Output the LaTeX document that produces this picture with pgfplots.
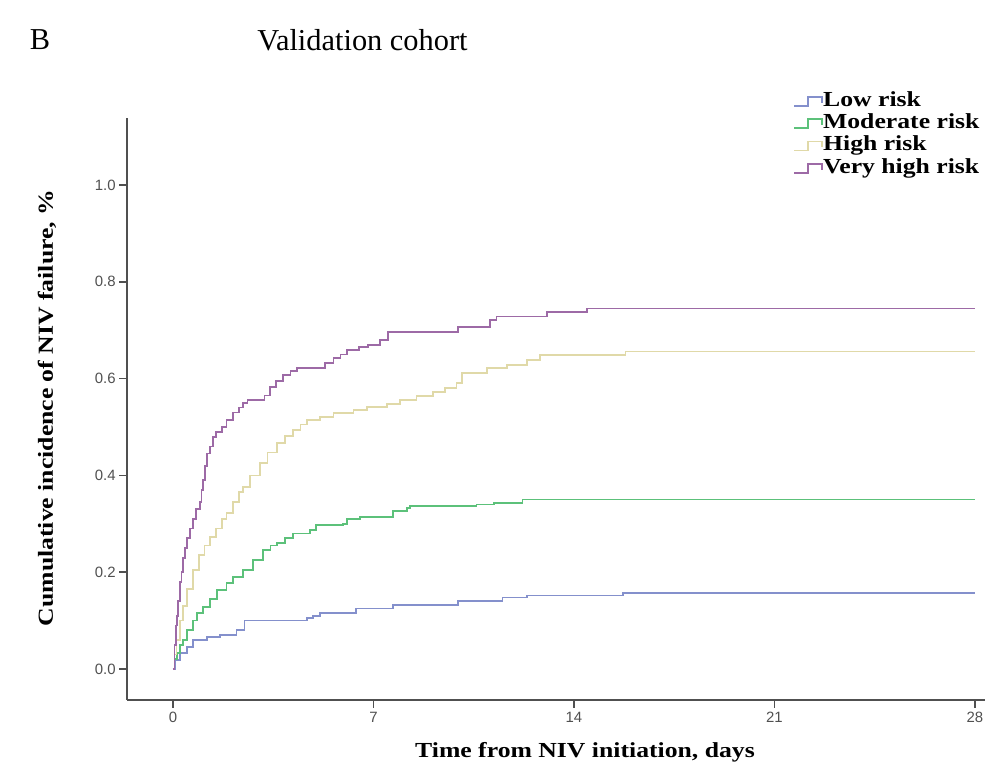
\documentclass[border=0pt]{standalone}
\usepackage{pgfplots}
\pgfplotsset{compat=1.18}
\usepackage{fontspec}
\setmainfont{Liberation Serif}
\newfontfamily\sansf{Liberation Sans}
\newfontfamily\labfont[FakeStretch=1.2]{Liberation Serif}
\definecolor{lowc}{HTML}{8490CC}
\definecolor{modc}{HTML}{5CC17A}
\definecolor{highc}{HTML}{E0D9A8}
\definecolor{vhighc}{HTML}{9D6AA6}
\definecolor{axc}{HTML}{505050}
\begin{document}
\begin{tikzpicture}
\path[use as bounding box] (-173bp,-100bp) rectangle (828bp,669bp);
\begin{axis}[
  at={(0,0)}, anchor=origin,
  x=28.64bp, y=484bp,
  xmin=-1.6, xmax=28.35, ymin=-0.064, ymax=1.138,
  axis x line*=bottom, axis y line*=left,
  axis line style={-, draw=axc, line width=1.8bp},
  tick style={draw=axc, line width=1.5bp},
  tick align=outside,
  major tick length=8bp,
  xtick={0,7,14,21,28},
  ytick={0,0.2,0.4,0.6,0.8,1.0},
  yticklabel style={/pgf/number format/fixed, /pgf/number format/fixed zerofill, /pgf/number format/precision=1},
  xticklabel style={yshift=-1bp},
  /pgf/number format/assume math mode=true,
  tick label style={font=\fontsize{15}{15}\selectfont\sansf, text=axc},
  legend style={draw=none, fill=none, at={(rel axis cs:0.773,1.05)}, anchor=north west,
    font=\fontsize{21.5}{22}\selectfont\labfont\bfseries,
    nodes={inner sep=0pt, text height=15bp, text depth=4bp}, row sep=3.3bp,
    /tikz/every even column/.append style={column sep=3bp}},
  legend cell align=left,
  legend image code/.code={\draw[#1] (0bp,-5bp) -- (14bp,-5bp) -- (14bp,4bp) -- (28bp,4bp) -- (28bp,-2bp);},
  clip=false,
]
\addplot[const plot, lowc, line width=1.7bp] coordinates {
(0,0) (0.07,0.019) (0.24,0.033) (0.48,0.046) (0.7,0.06) (1.18,0.066) (1.64,0.07) (2.22,0.08) (2.5,0.10) (4.67,0.105) (4.9,0.11) (5.13,0.115) (6.4,0.125) (7.68,0.132) (9.95,0.141) (11.5,0.148) (12.36,0.152) (15.7,0.157) (28,0.157)};
\addlegendentry{Low risk}
\addplot[const plot, modc, line width=1.7bp] coordinates {
(0,0) (0.05,0.02) (0.13,0.033) (0.25,0.05) (0.35,0.06) (0.5,0.08) (0.7,0.10) (0.85,0.115) (1.05,0.128) (1.3,0.145) (1.53,0.163) (1.87,0.178) (2.1,0.19) (2.45,0.205) (2.8,0.225) (3.14,0.246) (3.4,0.255) (3.62,0.26) (3.9,0.27) (4.2,0.28) (4.78,0.287) (5.0,0.297) (5.94,0.30) (6.07,0.31) (6.53,0.314) (7.68,0.326) (8.17,0.333) (8.27,0.337) (10.6,0.34) (11.2,0.343) (12.2,0.35) (28,0.35)};
\addlegendentry{Moderate risk}
\addplot[const plot, highc, line width=1.7bp] coordinates {
(0,0) (0.05,0.03) (0.12,0.06) (0.24,0.10) (0.35,0.13) (0.5,0.165) (0.7,0.205) (0.9,0.235) (1.1,0.255) (1.29,0.273) (1.5,0.29) (1.7,0.31) (1.87,0.322) (2.1,0.345) (2.3,0.365) (2.45,0.376) (2.7,0.40) (3.04,0.425) (3.3,0.447) (3.62,0.467) (3.9,0.482) (4.2,0.494) (4.45,0.505) (4.67,0.514) (5.13,0.521) (5.6,0.529) (6.3,0.535) (6.77,0.541) (7.47,0.548) (7.93,0.556) (8.5,0.564) (9.08,0.572) (9.5,0.58) (9.9,0.591) (10.09,0.612) (10.96,0.622) (11.66,0.628) (12.36,0.638) (12.81,0.649) (15.8,0.656) (28,0.656)};
\addlegendentry{High risk}
\addplot[const plot, vhighc, line width=1.7bp] coordinates {
(0,0) (0.05,0.05) (0.1,0.09) (0.13,0.11) (0.18,0.14) (0.24,0.18) (0.3,0.2) (0.36,0.23) (0.42,0.25) (0.48,0.27) (0.6,0.29) (0.7,0.31) (0.8,0.33) (0.94,0.345) (1.0,0.37) (1.05,0.39) (1.12,0.42) (1.18,0.445) (1.3,0.46) (1.4,0.48) (1.5,0.49) (1.7,0.5) (1.87,0.515) (2.1,0.53) (2.3,0.54) (2.45,0.55) (2.6,0.556) (3.2,0.565) (3.39,0.583) (3.6,0.595) (3.84,0.607) (4.1,0.615) (4.32,0.622) (5.3,0.632) (5.6,0.642) (5.85,0.65) (6.07,0.659) (6.5,0.665) (6.8,0.670) (7.23,0.68) (7.5,0.696) (9.95,0.706) (11.07,0.721) (11.3,0.728) (13.06,0.738) (14.45,0.745) (28,0.745)};
\addlegendentry{Very high risk}
\end{axis}
\node[font=\fontsize{30.5}{32}\selectfont] at (-133bp,629bp) {B};
\node[font=\fontsize{30.5}{32}\selectfont] at (189.5bp,629bp) {Validation cohort};
\node[font=\fontsize{21.5}{22}\selectfont\labfont\bfseries, rotate=90] at (-126bp,261bp) {Cumulative incidence of NIV failure, \%};
\node[font=\fontsize{21.5}{22}\selectfont\labfont\bfseries] at (412bp,-83bp) {Time from NIV initiation, days};
\end{tikzpicture}
\end{document}
